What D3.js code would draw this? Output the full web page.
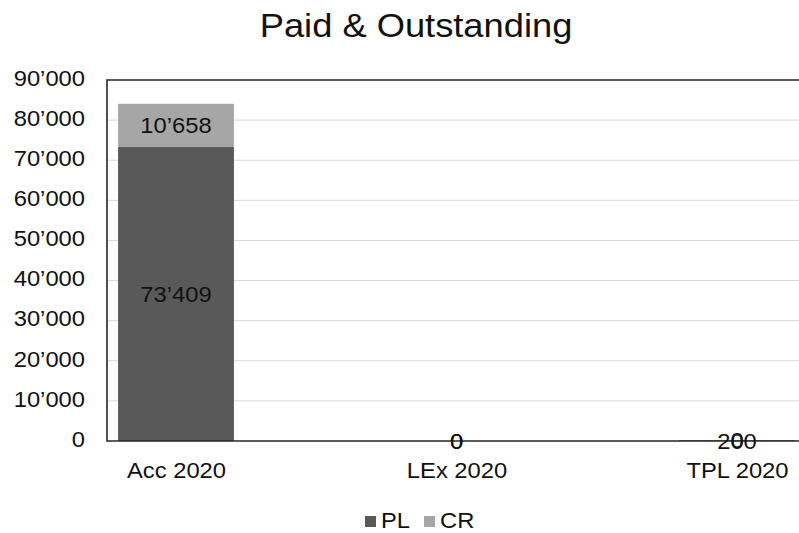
<!DOCTYPE html>
<html><head><meta charset="utf-8">
<script src="https://cdn.jsdelivr.net/npm/d3@7"></script>
<style>body{margin:0;background:#fff}svg{display:block}text{font-family:"Liberation Sans",Arial,sans-serif}</style>
</head><body><svg id="c" width="799" height="533"></svg>
<script>
const categories = ["Acc 2020", "LEx 2020", "TPL 2020"];
const seriesNames = ["PL", "CR"];
const plValues = [73409, 0, 200];
const crValues = [10658, 0, 0];
const yTicks = [0, 10000, 20000, 30000, 40000, 50000, 60000, 70000, 80000, 90000];
const colors = {PL: "#595959", CR: "#a6a6a6"};

(function () {
const svg = d3.select("#c");
const mLeft = 107, mTop = 80, mBottom = 441, mRight = 820;
const SX = 1.08, FS = 22, TXT = "#111";
const y = d3.scaleLinear().domain([0, 90000]).range([mBottom, mTop]);
const x = d3.scalePoint().domain(categories).range([176, 737]);
const barW = x.step() * 0.413;
const fmt = v => d3.format(",")(v).replace(/,/g, "\u2019");

function label(parent, px, py, str, size, anchor, sx) {
  return parent.append("text").attr("transform", `translate(${px},${py}) scale(${sx},1)`)
    .attr("text-anchor", anchor).attr("font-size", size).attr("fill", TXT).text(str);
}

// gridlines
svg.append("g").selectAll("line").data(yTicks.filter(d => d > 0 && d < 90000)).join("line")
  .attr("x1", mLeft).attr("x2", mRight).attr("y1", d => y(d)).attr("y2", d => y(d))
  .attr("stroke", "#d9d9d9").attr("stroke-width", 1);

// stacked bars
const rows = categories.map((c, i) => ({cat: c, PL: plValues[i], CR: crValues[i]}));
const stack = d3.stack().keys(seriesNames)(rows);
const gBars = svg.append("g");
stack.forEach(s => {
  gBars.selectAll(null).data(s).join("rect")
    .attr("x", d => x(d.data.cat) - barW / 2).attr("width", barW)
    .attr("y", d => y(d[1])).attr("height", d => y(d[0]) - y(d[1]))
    .attr("fill", colors[s.key]);
});

// frame / axes
svg.append("path").attr("d", `M${mRight},${mTop}H${mLeft}V${mBottom}H${mRight}`)
  .attr("fill", "none").attr("stroke", "#262626").attr("stroke-width", 1.6);

// y axis labels
const yPad = 22;
const yAxis = d3.axisLeft(y).tickValues(yTicks).tickSize(0).tickPadding(yPad).tickFormat(fmt);
const ga = svg.append("g").attr("transform", `translate(${mLeft},0)`).call(yAxis);
ga.select(".domain").remove();
ga.selectAll("text").attr("font-size", FS).attr("fill", TXT)
  .attr("font-family", "Liberation Sans, Arial, sans-serif")
  .attr("x", -yPad / SX).attr("dy", "0.24em").attr("transform", `scale(${SX},1)`);

// x axis labels
const xAxis = d3.axisBottom(x).tickSize(0).tickPadding(21);
const gx = svg.append("g").attr("transform", `translate(0,${mBottom})`).call(xAxis);
gx.select(".domain").remove();
gx.selectAll("text").attr("font-size", FS).attr("fill", TXT)
  .attr("font-family", "Liberation Sans, Arial, sans-serif").attr("transform", `scale(${SX},1)`);

// data labels
const gl = svg.append("g");
stack.forEach(s => {
  s.forEach(d => {
    label(gl, x(d.data.cat), (y(d[0]) + y(d[1])) / 2, fmt(d.data[s.key]), FS, "middle", SX)
      .attr("dy", "0.36em");
  });
});

// title
label(svg, 416, 37, "Paid & Outstanding", 33, "middle", 1.1);

// legend
const lg = svg.append("g");
const lx = [365, 424];
seriesNames.forEach((n, i) => {
  lg.append("rect").attr("x", lx[i]).attr("y", 516).attr("width", 11).attr("height", 11).attr("fill", colors[n]);
  label(lg, lx[i] + 16, 528, n, FS, "start", SX);
});
})();
</script></body></html>
